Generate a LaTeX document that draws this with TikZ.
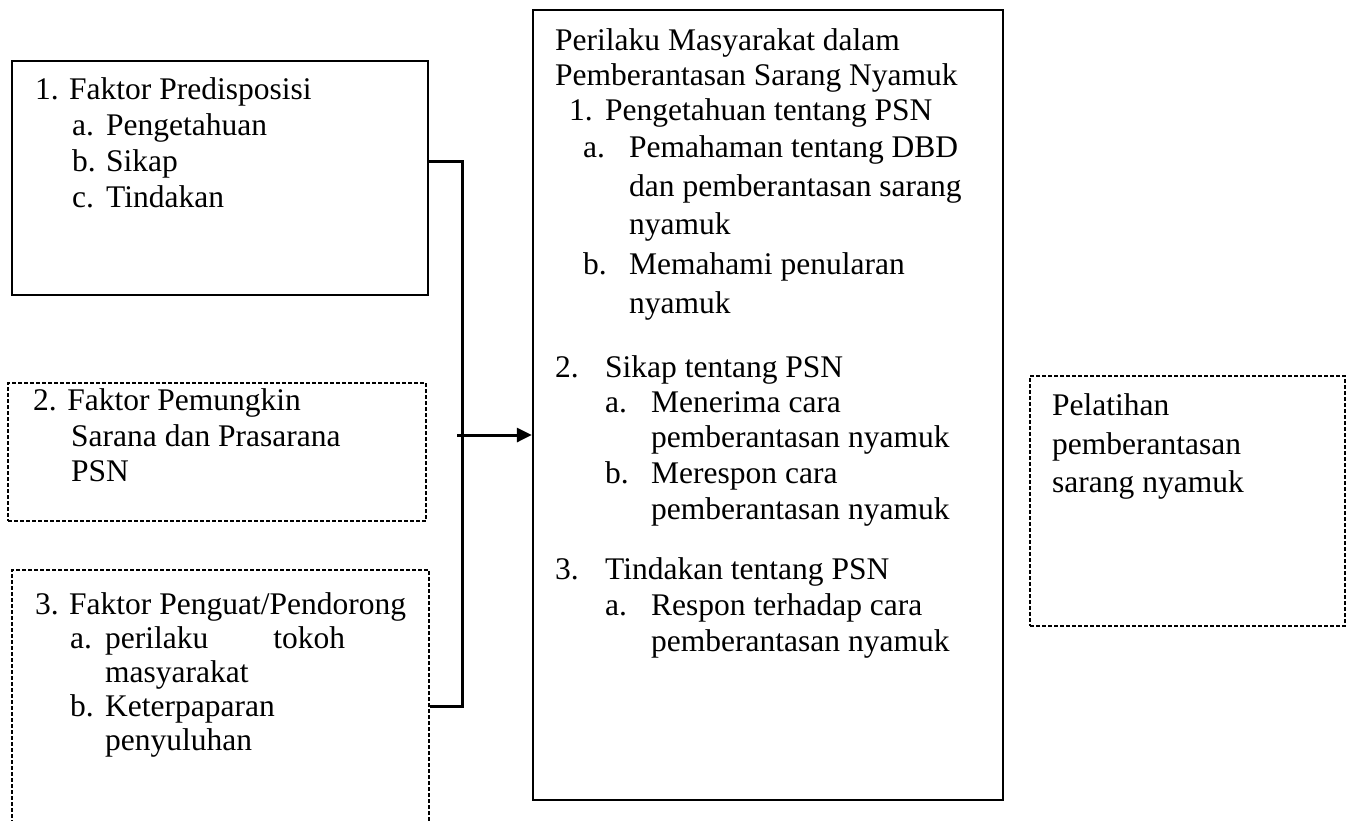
\documentclass[tikz,border=0pt]{standalone}
\usepackage{fontspec}
\setmainfont{Liberation Serif}
\usetikzlibrary{arrows.meta}
\newcommand{\lbl}[2]{\makebox[#1pt][l]{#2}}
\begin{document}
\begin{tikzpicture}[x=1pt,y=-1pt,
  txt/.style={anchor=base west,inner sep=0pt,font=\fontsize{31.5}{36}\selectfont},
  solidbox/.style={draw,line width=2.1pt,inner sep=0pt},
  dashbox/.style={draw,line width=1.9pt,dash pattern=on 4pt off 2pt,inner sep=0pt},
  conn/.style={line width=3pt}]
\useasboundingbox (0,0) rectangle (1350,820);
\clip (0,0) rectangle (1350,820);
% boxes
\node[solidbox,minimum width=416pt,minimum height=234pt] (b1) at (220,178) {};
\node[dashbox,minimum width=418pt,minimum height=138pt] (b2) at (217,452) {};
\node[dashbox,minimum width=417pt,minimum height=290pt] (b3) at (220.5,715) {};
\node[solidbox,line width=2.3pt,minimum width=470pt,minimum height=790pt] (c) at (768,405) {};
\node[dashbox,minimum width=315pt,minimum height=250pt] (r) at (1187.5,501) {};
% box 1 text
\node[txt] (t11) at (35,99) {\lbl{34}{1.}Faktor Predisposisi};
\node[txt] (t12) at (72,135) {\lbl{34}{a.}Pengetahuan};
\node[txt] (t13) at (72,171) {\lbl{34}{b.}Sikap};
\node[txt] (t14) at (72,207) {\lbl{34}{c.}Tindakan};
% box 2 text
\node[txt] (t21) at (33,410) {2. Faktor Pemungkin};
\node[txt] (t22) at (71,446) {Sarana dan Prasarana};
\node[txt] (t23) at (71,481) {PSN};
% box 3 text
\node[txt] (t31) at (35,614) {\lbl{34}{3.}Faktor Penguat/Pendorong};
\node[txt] (t32) at (70,648) {\lbl{35}{a.}perilaku\hspace*{65pt}tokoh};
\node[txt] (t33) at (105,682) {masyarakat};
\node[txt] (t34) at (70,716) {\lbl{35}{b.}Keterpaparan};
\node[txt] (t35) at (105,750) {penyuluhan};
% central text
\node[txt] (c01) at (555,50) {Perilaku Masyarakat dalam};
\node[txt] (c02) at (555,85) {Pemberantasan Sarang Nyamuk};
\node[txt] (c03) at (569,120) {\lbl{36}{1.}Pengetahuan tentang PSN};
\node[txt] (c04) at (583,157) {\lbl{46}{a.}Pemahaman tentang DBD};
\node[txt] (c05) at (629,196) {dan pemberantasan sarang};
\node[txt] (c06) at (629,234) {nyamuk};
\node[txt] (c07) at (583,274) {\lbl{46}{b.}Memahami penularan};
\node[txt] (c08) at (629,313) {nyamuk};
\node[txt] (c09) at (555,377) {\lbl{50}{2.}Sikap tentang PSN};
\node[txt] (c10) at (605,412) {\lbl{46}{a.}Menerima cara};
\node[txt] (c11) at (651,447) {pemberantasan nyamuk};
\node[txt] (c12) at (605,483) {\lbl{46}{b.}Merespon cara};
\node[txt] (c13) at (651,519) {pemberantasan nyamuk};
\node[txt] (c14) at (555,579) {\lbl{50}{3.}Tindakan tentang PSN};
\node[txt] (c15) at (605,615) {\lbl{46}{a.}Respon terhadap cara};
\node[txt] (c16) at (651,651) {pemberantasan nyamuk};
% right box text
\node[txt] (r1) at (1052,415) {Pelatihan};
\node[txt] (r2) at (1052,454) {pemberantasan};
\node[txt] (r3) at (1052,492) {sarang nyamuk};
% connectors
\coordinate (jt) at (462,161);
\coordinate (jb) at (462,706);
\coordinate (as) at (457,435);
\draw[conn] (b1.east |- jt) -- (jt) -- (jb) -- (b3.east |- jb);
\draw[conn,-{Triangle[length=15pt,width=14pt]}] (as) -- (c.west |- as);
\end{tikzpicture}
\end{document}
